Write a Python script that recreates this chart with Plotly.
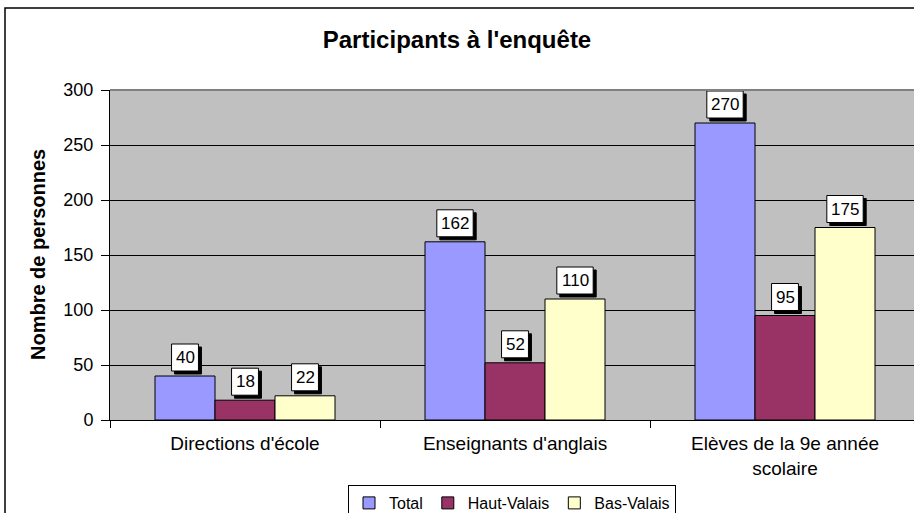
import plotly.graph_objects as go

categories = ["Directions d'école", "Enseignants d'anglais", "Elèves de la 9e année<br>scolaire"]
series_names = ["Total", "Haut-Valais", "Bas-Valais"]
total = [40, 162, 270]
haut_valais = [18, 52, 95]
bas_valais = [22, 110, 175]
y_ticks = [0, 50, 100, 150, 200, 250, 300]

COLORS = ["#9999FF", "#993366", "#FFFFCC"]
FONT = "Arial, Liberation Sans, sans-serif"
BAR_GAP = 1 / 3
LABEL_SIZE = 17

# plot area in pixels: x 110..914, y 90..420
PLOT_L, PLOT_T, PLOT_B = 110, 90, 420
PLOT_W, PLOT_H = 914 - PLOT_L, PLOT_B - PLOT_T


def px_to_paper_x(px):
    return (px - PLOT_L) / PLOT_W


def px_to_paper_y(px):
    return (PLOT_B - px) / PLOT_H


fig = go.Figure()
for name, values, color in zip(series_names, [total, haut_valais, bas_valais], COLORS):
    fig.add_trace(
        go.Bar(
            x=categories,
            y=values,
            name=name,
            marker=dict(color=color, line=dict(color="black", width=1)),
        )
    )

# data labels: white box with a black drop shadow, anchored on each bar top
bar_width = (1 - BAR_GAP) / len(series_names)
annotations = []
shapes = []
gap, box_h, shadow = 5, 27, 3
for s_idx, values in enumerate([total, haut_valais, bas_valais]):
    offset = (s_idx - 1) * bar_width
    for c_idx, value in enumerate(values):
        x = c_idx + offset
        half_w = (len(str(value)) * 0.556 * LABEL_SIZE + 8) / 2
        base = dict(type="rect", xref="x", yref="y", xsizemode="pixel", ysizemode="pixel",
                    xanchor=x, yanchor=value, layer="above")
        shapes.append(dict(base, x0=-half_w + shadow, x1=half_w + shadow,
                           y0=gap - shadow, y1=gap + box_h - shadow,
                           fillcolor="black", line=dict(color="black", width=1)))
        shapes.append(dict(base, x0=-half_w, x1=half_w, y0=gap, y1=gap + box_h,
                           fillcolor="white", line=dict(color="black", width=1)))
        annotations.append(
            dict(
                x=x,
                y=value,
                xref="x",
                yref="y",
                text=str(value),
                showarrow=False,
                yanchor="middle",
                yshift=gap + box_h / 2,
                font=dict(family=FONT, size=LABEL_SIZE, color="black"),
            )
        )

annotations.append(
    dict(
        text="<b>Nombre de personnes</b>",
        xref="paper",
        yref="paper",
        x=px_to_paper_x(38),
        y=0.5,
        textangle=-90,
        showarrow=False,
        xanchor="center",
        yanchor="middle",
        font=dict(size=20, family=FONT, color="black"),
    )
)

# outer chart frame and the grey top edge of the plot area
shapes.append(
    dict(type="rect", xref="paper", yref="paper",
         x0=px_to_paper_x(5), x1=1.05, y0=-0.4, y1=px_to_paper_y(8),
         line=dict(color="black", width=1.5), fillcolor="rgba(0,0,0,0)", layer="below")
)
shapes.append(
    dict(type="line", xref="paper", yref="paper", x0=0, x1=1, y0=1, y1=1,
         line=dict(color="#808080", width=2))
)

fig.update_layout(
    width=914,
    height=513,
    margin=dict(l=PLOT_L, r=0, t=PLOT_T, b=513 - PLOT_B, autoexpand=False),
    paper_bgcolor="white",
    plot_bgcolor="#C0C0C0",
    barmode="group",
    bargap=BAR_GAP,
    bargroupgap=0,
    font=dict(family=FONT, color="black"),
    title=dict(
        text="<b>Participants à l'enquête</b>",
        x=0.5,
        xref="container",
        xanchor="center",
        y=1 - 40 / 513,
        yanchor="middle",
        font=dict(size=24, family=FONT, color="black"),
    ),
    legend=dict(
        orientation="h",
        x=0.5,
        xanchor="center",
        y=px_to_paper_y(485),
        yanchor="top",
        bordercolor="black",
        borderwidth=1,
        bgcolor="white",
        font=dict(size=16, family=FONT),
        itemwidth=30,
        tracegroupgap=0,
    ),
    annotations=annotations,
    shapes=shapes,
)

fig.update_xaxes(
    range=[-0.5, -0.5 + 3 * PLOT_W / 810],
    showline=True,
    linecolor="black",
    linewidth=1,
    ticks="outside",
    tickson="boundaries",
    ticklen=7,
    tickcolor="black",
    ticklabelstandoff=6,
    tickfont=dict(size=19, family=FONT),
    showgrid=False,
)
fig.update_yaxes(
    range=[0, 300],
    tickvals=y_ticks,
    showline=True,
    linecolor="black",
    linewidth=1,
    ticks="outside",
    ticklen=8,
    tickcolor="black",
    ticklabelstandoff=4,
    tickfont=dict(size=18, family=FONT),
    showgrid=True,
    gridcolor="black",
    gridwidth=1,
    zeroline=False,
)

# the page body has a default 8px margin; remove it so the figure fills the window
fig.write_html(
    "out.html",
    config={"displayModeBar": False},
    post_script="document.body.style.margin='0px';",
)
